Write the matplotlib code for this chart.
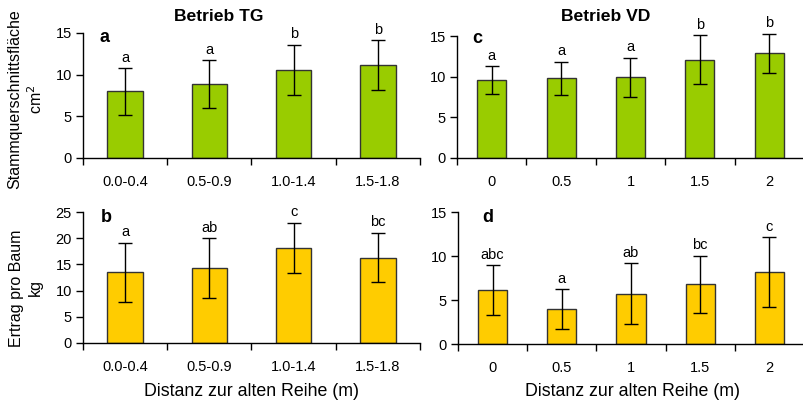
import matplotlib
matplotlib.use("Agg")
import matplotlib.pyplot as plt
import numpy as np

plt.rcParams['font.family'] = ['Liberation Sans', 'DejaVu Sans']

# Betrieb TG
tg_cats = ["0.0-0.4", "0.5-0.9", "1.0-1.4", "1.5-1.8"]
tg_stamm = [8.0, 8.85, 10.55, 11.15]
tg_stamm_sd = [2.8, 2.85, 3.05, 3.0]
tg_stamm_let = ["a", "a", "b", "b"]
tg_ertrag = [13.5, 14.25, 18.15, 16.3]
tg_ertrag_sd = [5.6, 5.75, 4.8, 4.75]
tg_ertrag_let = ["a", "ab", "c", "bc"]

# Betrieb VD
vd_cats = ["0", "0.5", "1", "1.5", "2"]
vd_stamm = [9.6, 9.8, 9.9, 12.1, 12.9]
vd_stamm_sd = [1.7, 2.05, 2.4, 3.0, 2.4]
vd_stamm_let = ["a", "a", "a", "b", "b"]
vd_ertrag = [6.15, 3.95, 5.7, 6.8, 8.15]
vd_ertrag_sd = [2.8, 2.25, 3.45, 3.25, 4.0]
vd_ertrag_let = ["abc", "a", "ab", "bc", "c"]

green = "#99CC00"
yellow = "#FFCC00"

W, H = 804, 403
fig = plt.figure(figsize=(W / 100, H / 100), dpi=100)


def add_ax(left, top, right, bottom):
    return fig.add_axes([left / W, 1 - bottom / H, (right - left) / W, (bottom - top) / H])


def panel(ax, cats, vals, sds, lets, color, ymax, letter, lpos):
    n = len(cats)
    x = np.arange(n) + 0.5
    ax.bar(x, vals, width=0.42, color=color, edgecolor="#333333", linewidth=1.0, zorder=2)
    ax.errorbar(x, vals, yerr=sds, fmt="none", ecolor="black", elinewidth=1.0,
                capsize=4.7, capthick=1.0, zorder=3, clip_on=False)
    for xi, v, s, l in zip(x, vals, sds, lets):
        ax.annotate(l, (xi, v + s), xytext=(0, 2.5), textcoords="offset points",
                    ha="center", va="bottom", fontsize=10.5, annotation_clip=False)
    ax.set_xlim(0, n)
    ax.set_ylim(0, ymax)
    ax.set_yticks(np.arange(0, ymax + 1, 5))
    ax.set_xticks(np.arange(n + 1))
    ax.set_xticklabels([])
    ax.set_xticks(x, minor=True)
    ax.set_xticklabels(cats, minor=True)
    ax.tick_params(axis="x", which="major", length=5, width=1, direction="out")
    ax.tick_params(axis="x", which="minor", length=0, pad=12, labelsize=10.5)
    ax.tick_params(axis="y", length=5, width=1, direction="out", labelsize=10.5, pad=3)
    for s in ["top", "right"]:
        ax.spines[s].set_visible(False)
    for s in ["left", "bottom"]:
        ax.spines[s].set_linewidth(1)
    # panel letter placed in figure pixels
    fig.text(lpos[0] / W, 1 - lpos[1] / H, letter, fontsize=13,
             fontweight="bold", ha="left", va="top")


ax_a = add_ax(83, 33, 420, 158)
ax_c = add_ax(457, 36, 804, 158)
ax_b = add_ax(83, 212, 420, 343)
ax_d = add_ax(458, 212, 804, 344)

panel(ax_a, tg_cats, tg_stamm, tg_stamm_sd, tg_stamm_let, green, 15, "a", (100, 29))
panel(ax_c, vd_cats, vd_stamm, vd_stamm_sd, vd_stamm_let, green, 15, "c", (472, 30))
panel(ax_b, tg_cats, tg_ertrag, tg_ertrag_sd, tg_ertrag_let, yellow, 25, "b", (101, 209))
panel(ax_d, vd_cats, vd_ertrag, vd_ertrag_sd, vd_ertrag_let, yellow, 15, "d", (482, 209))

# y labels
fig.text(26 / W, 1 - 99 / H, "Stammquerschnittsfläche\ncm$^2$", rotation=90,
         ha="center", va="center", fontsize=11.5, linespacing=1.3, multialignment="center")
fig.text(26 / W, 1 - 288 / H, "Ertrag pro Baum\nkg", rotation=90,
         ha="center", va="center", fontsize=11.5, linespacing=1.3, multialignment="center")

xlab = "Distanz zur alten Reihe (m)"
fig.text(252 / W, 1 - 391 / H, xlab, ha="center", va="center", fontsize=12.8)
fig.text(633 / W, 1 - 391 / H, xlab, ha="center", va="center", fontsize=12.8)

fig.text(219 / W, 1 - 16.5 / H, "Betrieb TG", ha="center", va="center",
         fontsize=12.6, fontweight="bold")
fig.text(606 / W, 1 - 16.5 / H, "Betrieb VD", ha="center", va="center",
         fontsize=12.6, fontweight="bold")

fig.savefig("out.png", dpi=100)
